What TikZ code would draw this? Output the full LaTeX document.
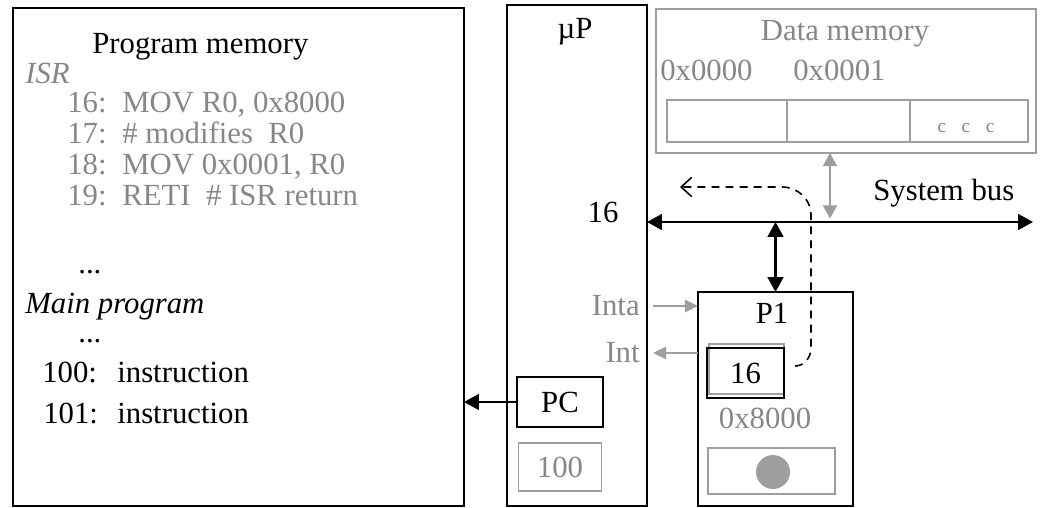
\documentclass[tikz,border=0pt]{standalone}
\usepackage{fontspec}
\setmainfont{Liberation Serif}
\usepackage{tikz}
\usetikzlibrary{positioning, arrows.meta}
\definecolor{boxgray}{RGB}{158,158,158}
\definecolor{textgray}{RGB}{135,135,135}

\begin{document}
\begin{tikzpicture}[
        x=0.02cm, y=-0.02cm,
        font=\fontsize{17.5}{21}\selectfont,
        box/.style={rectangle, draw, line width=1.1pt, inner sep=0pt, outer sep=0pt},
        graybox/.style={rectangle, draw=boxgray, line width=1.1pt, inner sep=0pt, outer sep=0pt},
        txt/.style={inner sep=0pt, anchor=base west},
        dimtxt/.style={txt, text=textgray},
        arrow/.style={-{Triangle[length=8.5pt, width=9pt]}, line width=1.2pt},
        biarrow/.style={{Triangle[length=8.5pt, width=9pt]}-{Triangle[length=8.5pt, width=9pt]}, line width=1.2pt},
        grayarrow/.style={-{Triangle[length=7.5pt, width=7pt]}, line width=1.2pt, color=boxgray},
        graybiarrow/.style={{Triangle[length=7.5pt, width=8pt]}-{Triangle[length=7.5pt, width=8pt]}, line width=1.2pt, color=boxgray},
        dasharrow/.style={-{Straight Barb[length=6pt, width=11pt]}, dash pattern=on 4.5pt off 3.5pt, line width=0.9pt},
    ]
        \useasboundingbox (0,0) rectangle (1043,507);

        % Program memory
        \node[box, minimum width=9.02cm, minimum height=9.96cm] (progmem) at (238.5,257) {};
        \node[txt] (progtitle) at (92,53) {Program memory};
        \node[dimtxt] (isrlabel) at (25,83) {\itshape ISR};
        \foreach \num/\ins [count=\k from 0] in {16/{MOV R0, 0x8000}, 17/{\# modifies\ \ R0}, 18/{MOV 0x0001, R0}, 19/{RETI\ \ \# ISR return}} {
            \node[dimtxt] (isrnum\num) at (67,112+31*\k) {\num:};
            \node[dimtxt] (isrins\num) at (122,112+31*\k) {\ins};
        }
        \node[txt] (isrdots) at (78,273) {...};
        \node[txt] (mainlabel) at (25,313) {\itshape Main program};
        \node[txt] (maindots) at (78,342) {...};
        \node[txt] (num100) at (42,382) {100:};
        \node[txt] (ins100) at (117,382) {instruction};
        \node[txt] (num101) at (43,423) {101:};
        \node[txt] (ins101) at (117,423) {instruction};

        % Microprocessor
        \node[box, minimum width=2.8cm, minimum height=10.02cm] (up) at (577,255.5) {};
        \node[txt, anchor=base] (uptitle) at (575,38) {µP};
        \node[txt, anchor=base] (upwidth) at (603,222) {16};
        \node[box, minimum width=1.72cm, minimum height=1cm] (pc) at (560,402) {PC};
        \node[graybox, text=textgray, minimum width=1.66cm, minimum height=0.96cm, below=0.32cm of pc] (pcval) {100};
        \node[dimtxt, anchor=east] (inta) at (640,306) {Inta};
        \node[dimtxt, anchor=east] (intl) at (640,353) {Int};

        % Data memory
        \node[graybox, minimum width=7.6cm, minimum height=2.88cm] (datamem) at (846,81) {};
        \node[dimtxt, anchor=base] (datatitle) at (845,40) {Data memory};
        \node[dimtxt] (addr0) at (660,80) {0x0000};
        \node[dimtxt] (addr1) at (793,80) {0x0001};
        \node[graybox, minimum width=2.4cm, minimum height=0.84cm] (cell0) at (727,121) {};
        \node[graybox, minimum width=2.46cm, minimum height=0.84cm, right=0pt of cell0] (cell1) {};
        \node[graybox, minimum width=2.36cm, minimum height=0.84cm, right=0pt of cell1] (cell2) {};
        \node[dimtxt, anchor=base] (celldots) at (966,132) {\fontsize{11}{11}\selectfont c\hspace{0.8em}c\hspace{0.8em}c};

        % Peripheral
        \node[box, minimum width=3.1cm, minimum height=4.28cm] (p1) at (775.5,399) {};
        \node[txt, anchor=base] (p1title) at (772,323) {P1};
        \node[graybox, minimum width=1.5cm, minimum height=1cm] (regshadow) at (746.5,369) {};
        \node[box, minimum width=1.54cm, minimum height=1cm] (intreg) at (745.5,373) {16};
        \node[dimtxt, anchor=base] (devaddr) at (765,428) {0x8000};
        \node[graybox, minimum width=2.54cm, minimum height=0.92cm] (devmem) at (771.5,471) {};
        \node[circle, fill=boxgray, minimum size=0.68cm, inner sep=0pt] (devbit) at (773,472) {};

        % Bus and signals
        \coordinate (busend) at (1033,222);
        \coordinate (dmtap) at ([xshift=-0.32cm]datamem.south);
        \coordinate (irqend) at (680,187);
        \draw[biarrow] (up.east |- busend) -- (busend);
        \node[txt] (buslabel) at (873,200) {System bus};
        \draw[graybiarrow, shorten >=2pt] (dmtap) -- (dmtap |- busend);
        \draw[biarrow] (p1.north) -- (p1.north |- busend);
        \draw[arrow] (pc.west) -- (pc.west -| progmem.east);
        \draw[grayarrow] ([xshift=0.26cm]inta.east) -- (inta.east -| p1.west);
        \draw[grayarrow] (intl.east -| p1.west) -- ([xshift=0.26cm]intl.east);
        \draw[dasharrow] ([shift={(11,-7)}]intreg.east) to[out=0, in=-90] (811,348) -- (811,215) to[out=90, in=0] (782,187) -- (irqend);

    \end{tikzpicture}
\end{document}
